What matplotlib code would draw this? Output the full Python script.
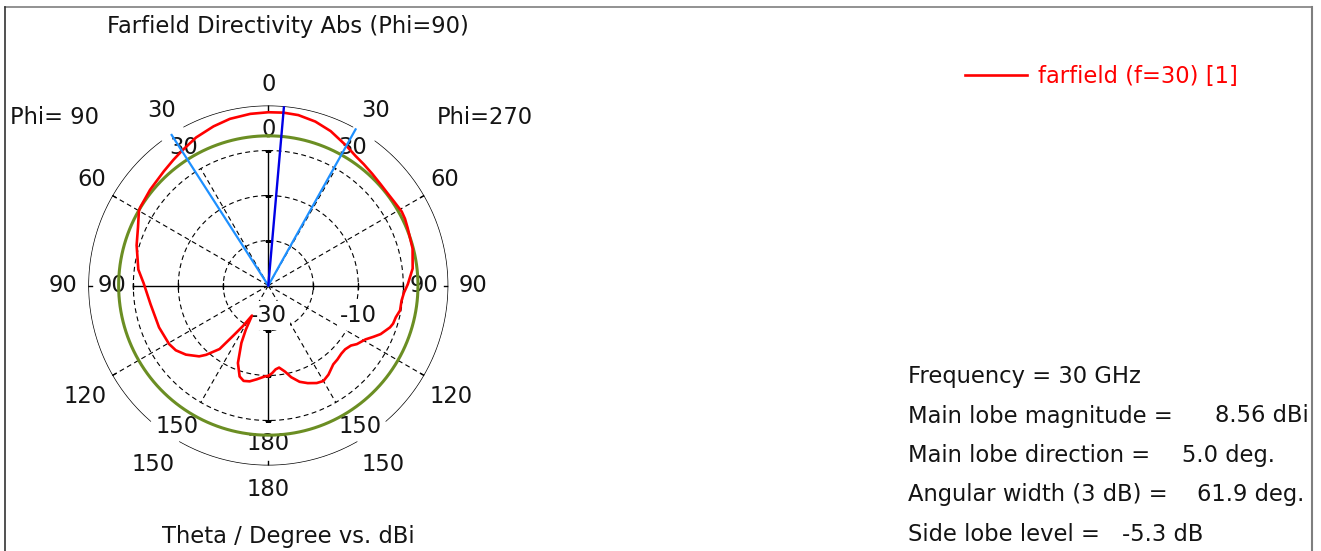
import numpy as np
import matplotlib.pyplot as plt
from matplotlib.lines import Line2D

plt.rcParams['font.family'] = ['DejaVu Sans']
plt.rcParams['lines.scale_dashes'] = False

# farfield cut, Phi=90 half on the left (negative theta), Phi=270 half on the right
theta_deg = [-180, -178, -173, -169, -165.5, -162.5, -158.6, -154.9, -153, -151.5,
             -148, -145, -142.5, -138.1, -135.7, -130, -125, -120.5, -111, -99,
             -91.6, -89, -83, -73, -66, -60, -58.5, -51, -42.4, -37,
             -32.7, -26, -19, -13, -6, 0, 5, 10, 16, 22,
             29.2, 34, 38.2, 43, 48, 52, 56.2, 61, 64, 67.6,
             75.6, 83.3, 89.5, 93, 96.5, 100.7, 104, 107, 109, 113.4,
             116, 119, 123.5, 126, 129.7, 133, 137, 140.5, 146, 150,
             153.6, 158, 162, 166, 169, 172.5, 175, 177.5, 180]
directivity_dbi = [-9.9, -9.8, -9.0, -8.3, -8.1, -8.8, -11.5, -15.9, -19.0, -22.4,
                   -19.4, -16.3, -12.2, -9.3, -8.0, -6.1, -4.9, -4.4, -4.0, -3.5,
                   -2.7, -2.3, -0.9, 0.6, 1.7, 3.2, 3.35, 3.8, 4.4, 5.0,
                   5.56, 6.6, 7.4, 8.0, 8.35, 8.5, 8.56, 8.45, 7.9, 7.0,
                   5.56, 4.7, 4.3, 3.9, 3.6, 3.5, 3.6, 3.9, 3.8, 3.5,
                   3.1, 2.3, 1.0, 0.2, -0.2, -0.2, -0.8, -1.0, -1.4, -2.8,
                   -4.0, -5.3, -6.4, -7.3, -7.8, -7.8, -7.5, -7.3, -6.1, -5.5,
                   -5.8, -6.6, -7.5, -9.0, -10.5, -11.6, -11.3, -10.5, -9.9]

main_lobe_dbi = 8.56
main_lobe_dir = 5.0
beam_width = 61.9
beam_left = -32.7
side_lobe_db = -5.3

r_min, r_max = -30, 10
grid_circles = [-20, -10, 0]
radial_ticks = [-20, -10, 0]
long_spokes = [60, 120, -60, -120]
short_spokes = [30, 150, -30, -150]
scale_labels = [-30, -10]
# parts of the outer ring hidden behind the inner scale labels
ring_gaps = [(28, 36.5), (139, 150.3)]

# angle scale labels: (text, angle, radius in dB units)
outer_labels = [('0', 0, 14.6), ('30', -31.4, 15.6), ('30', 31.4, 15.6),
                ('60', -58.9, 15.7), ('60', 58.9, 15.7), ('90', -90, 15.7),
                ('90', 90, 15.5), ('120', -121.2, 17.6), ('120', 121.2, 17.6),
                ('150', -147.4, 17.3), ('150', 147.4, 17.3), ('180', 180, 15.4)]
inner_labels = [('0', 0, 4.6), ('30', -31.5, 6.0), ('30', 31.5, 6.0),
                ('90', -90, 4.7), ('90', 90, 4.5), ('150', -147, 7.3),
                ('150', 147, 7.3), ('180', 180, 5.1)]

info_lines = ['Frequency = 30 GHz', 'Main lobe magnitude =', 'Main lobe direction =',
              'Angular width (3 dB) =', 'Side lobe level =']
info_values = ['', f'{main_lobe_dbi:.2f} dBi', f'{main_lobe_dir:.1f} deg.',
               f'{beam_width:.1f} deg.', f'{side_lobe_db:.1f} dB']
info_value_x = [0, 1215, 1182, 1197, 1122]

W, H = 1321, 551
txt_col = '#141414'
fs = 16.3

fig = plt.figure(figsize=(W / 100, H / 100), dpi=100)
cx, cy, rad = 268.3, 285.5, 180.0
ax = fig.add_axes([(cx - rad) / W, (H - cy - rad) / H, 2 * rad / W, 2 * rad / H],
                  projection='polar')
ax.set_theta_zero_location('N')
ax.set_theta_direction(-1)
ax.set_ylim(r_min, r_max)
ax.axis('off')

full = np.linspace(0, 2 * np.pi, 721)
for rc in grid_circles:
    ax.plot(full, np.full_like(full, rc), color='black', lw=0.8, dashes=(3.5, 2.5), zorder=1)
for a in long_spokes:
    ax.plot([np.radians(a)] * 2, [r_min, r_max], color='black', lw=0.8,
            dashes=(3.5, 2.5), zorder=1)
for a in short_spokes:
    ax.plot([np.radians(a)] * 2, [r_min, 0], color='black', lw=0.8,
            dashes=(3.5, 2.5), zorder=1)

# outer ring, broken where the inner labels sit
ring_deg = np.linspace(-180, 180, 1441)
visible = np.ones_like(ring_deg, dtype=bool)
for lo, hi in ring_gaps:
    visible &= ~((np.abs(ring_deg) > lo) & (np.abs(ring_deg) < hi))
ring_r = np.where(visible, r_max, np.nan)
ax.plot(np.radians(ring_deg), ring_r, color='black', lw=1.0, zorder=2)

for a in [0, 90, -90]:
    ax.plot([np.radians(a)] * 2, [r_min, 0], color='black', lw=1.0, zorder=2)
ax.plot([np.pi] * 2, [-20, 0], color='black', lw=1.0, zorder=2)
for a in [0, 60, 90, 120, 180, -60, -90, -120]:
    ax.plot([np.radians(a)] * 2, [r_max - 0.9, r_max + 0.9], color='black', lw=1.0, zorder=2)
for a, m in [(90, '|'), (-90, '|'), (0, '_'), (180, '_')]:
    ax.plot([np.radians(a)] * len(radial_ticks), radial_ticks, ls='none', marker=m,
            ms=5, mew=1.0, color='black', zorder=2)

box = dict(boxstyle='square,pad=0.12', fc='white', ec='none')
for txt, a, r in outer_labels + inner_labels:
    ax.text(np.radians(a), r, txt, ha='center', va='center', fontsize=fs,
            color=txt_col, bbox=box, zorder=3)
for v in scale_labels:
    ax.annotate(f'{v}', xy=(np.radians(90), v), xytext=(0, -30), textcoords='offset pixels',
                ha='center', va='center', fontsize=fs, color=txt_col, bbox=box, zorder=3)

# side lobe level circle, pattern, beam markers
ax.plot(full, np.full_like(full, main_lobe_dbi + side_lobe_db), color='#6b8e23', lw=2.2, zorder=4)
ax.plot(np.radians(theta_deg), directivity_dbi, color='#ff0000', lw=1.9, zorder=5)
for a in [beam_left, beam_left + beam_width]:
    ax.plot([np.radians(a)] * 2, [r_min, r_max], color='#1e90ff', lw=1.6, zorder=6)
ax.plot([np.radians(main_lobe_dir)] * 2, [r_min, r_max], color='#0000e6', lw=1.7, zorder=7)

def fx(px):
    return px / W

def fy(py):
    return 1 - py / H

fig.text(fx(288), fy(27), 'Farfield Directivity Abs (Phi=90)', ha='center', va='center',
         fontsize=fs, color=txt_col)
fig.text(fx(10), fy(118), 'Phi= 90', ha='left', va='center', fontsize=fs, color=txt_col)
fig.text(fx(437), fy(118), 'Phi=270', ha='left', va='center', fontsize=fs, color=txt_col)
fig.text(fx(288), fy(537), 'Theta / Degree vs. dBi', ha='center', va='center',
         fontsize=fs, color=txt_col)

fig.add_artist(Line2D([fx(965), fx(1027)], [fy(75), fy(75)], color='#ff0000', lw=1.9))
fig.text(fx(1038), fy(76), 'farfield (f=30) [1]', ha='left', va='center',
         fontsize=fs, color='#ff0000')

info_y = [377, 416, 455.5, 495, 534.5]
for line, val, vx, y in zip(info_lines, info_values, info_value_x, info_y):
    fig.text(fx(908), fy(y), line, ha='left', va='center', fontsize=fs, color=txt_col)
    if val:
        fig.text(fx(vx), fy(y), val, ha='left', va='center', fontsize=fs, color=txt_col)

# panel frame; the right edge hides whatever runs past it
fig.add_artist(Line2D([fx(5), fx(1312)], [fy(7), fy(7)], color='#7f7f7f', lw=1.2))
fig.add_artist(Line2D([fx(5), fx(5)], [fy(7), fy(551)], color='#333333', lw=1.2))
fig.add_artist(plt.Rectangle((fx(1312), 0), fx(W - 1312), 1, transform=fig.transFigure,
                             fc='white', ec='none', zorder=10))
fig.add_artist(Line2D([fx(1311.5), fx(1311.5)], [fy(7), fy(551)], color='#7f7f7f', lw=1.5,
                      zorder=11))

fig.savefig('out.png', dpi=100, facecolor='white')
